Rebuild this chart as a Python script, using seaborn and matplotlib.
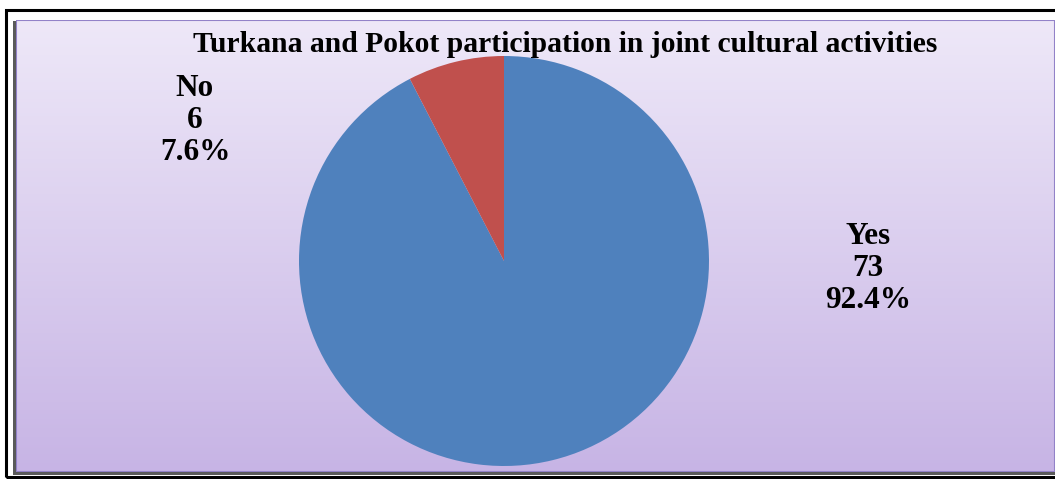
import numpy as np
import matplotlib
matplotlib.use("Agg")
import matplotlib.pyplot as plt
import seaborn as sns
from matplotlib.patches import Rectangle

categories = ["Yes", "No"]
counts = [73, 6]
colors = ["#4F81BD", "#C0504D"]
title = "Turkana and Pokot participation in joint cultural activities"

sns.set_theme(style="white")
plt.rcParams['font.family'] = ['Liberation Serif', 'DejaVu Serif']

W, H = 1055, 479
fig = plt.figure(figsize=(W / 100, H / 100), dpi=100)
fig.patch.set_facecolor("white")

def fx(px):
    return px / W

def fy(py):
    return 1 - py / H

# outer black border
fig.add_artist(Rectangle((fx(6), fy(477)), fx(1100 - 6), (477 - 10) / H,
                         transform=fig.transFigure, fill=False, edgecolor="black",
                         lw=2.2, zorder=-3))
# panel shadow
fig.add_artist(Rectangle((fx(13), fy(474.5)), fx(1100), (474.5 - 21) / H,
                         transform=fig.transFigure, facecolor="#5a5a5a",
                         edgecolor="none", zorder=-2))

# gradient panel
bg = fig.add_axes([fx(16), fy(472), fx(1055 - 16), (472 - 20) / H])
bg.set_zorder(-1)
top = np.array([238, 232, 248]) / 255
bot = np.array([199, 180, 229]) / 255
t = np.linspace(0, 1, 256)[:, None]
grad = (top[None, :] * (1 - t) + bot[None, :] * t)[:, None, :]
bg.imshow(grad, aspect="auto", extent=[0, 1, 0, 1])
bg.set_axis_off()
bg.add_patch(Rectangle((0, 0), 1, 1, transform=bg.transAxes, fill=False,
                       edgecolor="#9282C8", lw=1.5))

# pie
cx, cy, r = 504, 261, 205
ax = fig.add_axes([fx(cx - r), fy(cy + r), fx(2 * r), 2 * r / H])
ax.pie(counts, colors=colors, startangle=90, counterclock=False, radius=1,
       wedgeprops=dict(edgecolor="none"))
ax.set_xlim(-1, 1)
ax.set_ylim(-1, 1)
ax.set_aspect("equal")
ax.set_axis_off()

total = sum(counts)
label_pos = [(868, 268.5), (195, 120.5)]
for cat, c, (px, py) in zip(categories, counts, label_pos):
    fig.text(fx(px), fy(py), f"{cat}\n{c}\n{c / total * 100:.1f}%",
             ha="center", va="center", fontsize=22.5, fontweight="bold",
             linespacing=1.15, color="black")

fig.text(fx(565), fy(45), title, ha="center", va="center", fontsize=21.3,
         fontweight="bold", color="black")

fig.savefig("out.png", dpi=100, facecolor=fig.get_facecolor())
